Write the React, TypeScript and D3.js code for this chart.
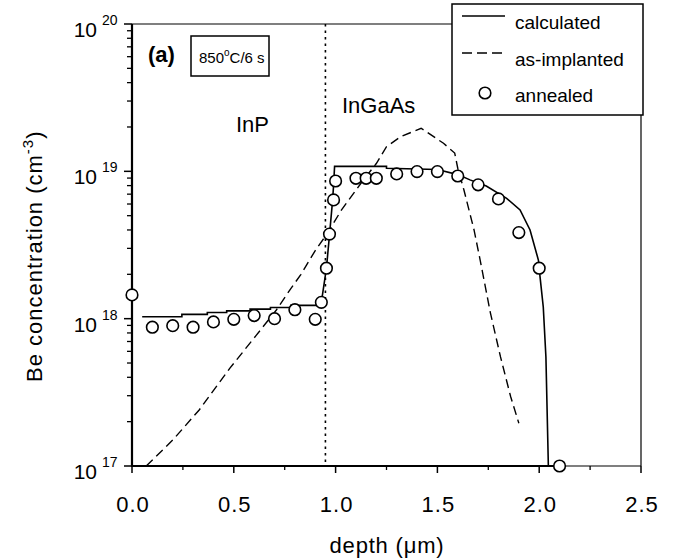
import React from "react";
import * as d3 from "d3";

// depth in µm, Be concentration in cm^-3
const calcDepth = [
  0.05, 0.245, 0.245, 0.37, 0.37, 0.465, 0.465, 0.58, 0.58, 0.68, 0.68, 0.78, 0.78, 0.91, 0.93,
  0.955, 0.97, 0.985, 0.99, 0.995, 1.25, 1.25, 1.5, 1.6, 1.66, 1.74, 1.84, 1.906, 1.955, 1.996,
  2.004, 2.02, 2.033, 2.045,
];
const calcConc = [
  1.03e18, 1.03e18, 1.07e18, 1.07e18, 1.1e18, 1.1e18, 1.13e18, 1.13e18, 1.16e18, 1.16e18, 1.19e18,
  1.19e18, 1.23e18, 1.23e18, 1.29e18, 2.2e18, 3.7e18, 6.3e18, 8.0e18, 1.08e19, 1.08e19, 1.05e19,
  1.03e19, 9.5e18, 8.75e18, 7.95e18, 6.56e18, 5.47e18, 4.0e18, 2.5e18, 1.93e18, 1.2e18, 5.5e17,
  1.0e17,
];

const implDepth = [
  0.07, 0.2, 0.33, 0.48, 0.61, 0.71, 0.78, 0.83, 0.9, 0.96, 1.03, 1.13, 1.2, 1.25, 1.32, 1.42,
  1.53, 1.585, 1.6, 1.63, 1.68, 1.71, 1.76, 1.81, 1.86, 1.9,
];
const implConc = [
  1.0e17, 1.5e17, 2.4e17, 4.6e17, 7.7e17, 1.15e18, 1.6e18, 2.0e18, 2.9e18, 3.8e18, 5.5e18, 8.5e18,
  1.13e19, 1.47e19, 1.72e19, 1.96e19, 1.55e19, 1.33e19, 1.05e19, 7.5e18, 4.0e18, 2.5e18, 1.1e18,
  5.5e17, 2.95e17, 1.95e17,
];

const annDepth = [
  0.0, 0.1, 0.2, 0.3, 0.4, 0.5, 0.6, 0.7, 0.8, 0.9, 0.93, 0.955, 0.97, 0.99, 1.0, 1.1, 1.15, 1.2,
  1.3, 1.4, 1.5, 1.6, 1.7, 1.8, 1.9, 2.0, 2.1,
];
const annConc = [
  1.45e18, 8.75e17, 8.96e17, 8.75e17, 9.5e17, 9.9e17, 1.05e18, 1.0e18, 1.15e18, 9.9e17, 1.29e18,
  2.2e18, 3.75e18, 6.4e18, 8.6e18, 8.97e18, 8.97e18, 8.97e18, 9.6e18, 9.96e18, 9.96e18, 9.3e18,
  8.1e18, 6.5e18, 3.84e18, 2.2e18, 1.0e17,
];

const xTicks = [0, 0.5, 1.0, 1.5, 2.0, 2.5];
const xMinorTicks = [0.25, 0.75, 1.25, 1.75, 2.25];
const yExponents = [17, 18, 19, 20];
const interfaceDepth = 0.95;

const font = "'Liberation Sans', Arial, Helvetica, sans-serif";

const App = () => {
  const width = 673;
  const height = 560;
  const left = 132;
  const right = 641;
  const top = 24;
  const bottom = 466;

  const x = d3.scaleLinear().domain([0, 2.5]).range([left, right]);
  const y = d3.scaleLog().domain([1e17, 1e20]).range([bottom, top]);

  const yMinor: number[] = [];
  [17, 18, 19].forEach((e) => {
    for (let m = 2; m <= 9; m++) yMinor.push(m * Math.pow(10, e));
  });

  const line = d3
    .line<[number, number]>()
    .x((d) => x(d[0]))
    .y((d) => y(d[1]));

  const calcPath = line(calcDepth.map((d, i) => [d, calcConc[i]]) as [number, number][]);
  const implPath = line(implDepth.map((d, i) => [d, implConc[i]]) as [number, number][]);

  return (
    <svg
      width={width}
      height={height}
      style={{ position: "absolute", left: 0, top: 0, background: "white" }}
      fontFamily={font}
    >
      <rect width={width} height={height} fill="white" />

      {/* frame */}
      <line x1={left} x2={right} y1={top} y2={top} stroke="black" strokeWidth={1.2} />
      <line x1={right} x2={right} y1={top} y2={bottom} stroke="black" strokeWidth={1.2} />
      <line x1={left} x2={right} y1={bottom} y2={bottom} stroke="black" strokeWidth={1.2} />

      {/* interface */}
      <line
        x1={x(interfaceDepth)}
        x2={x(interfaceDepth)}
        y1={top}
        y2={bottom}
        stroke="black"
        strokeWidth={1.6}
        strokeDasharray="2.5,4"
      />

      {/* as-implanted */}
      <path d={implPath || ""} fill="none" stroke="black" strokeWidth={1.4} strokeDasharray="9,5" />

      {/* calculated */}
      <path d={calcPath || ""} fill="none" stroke="black" strokeWidth={1.6} />

      {/* axes */}
      <line x1={left} x2={left} y1={top} y2={bottom + 1} stroke="black" strokeWidth={2.2} />
      <line x1={left - 1} x2={x(2.1)} y1={bottom} y2={bottom} stroke="black" strokeWidth={2.2} />

      {/* annealed */}
      {annDepth.map((d, i) => (
        <circle
          key={i}
          cx={x(d)}
          cy={y(annConc[i])}
          r={5.8}
          fill="white"
          stroke="black"
          strokeWidth={1.6}
        />
      ))}

      {xTicks.map((t) => (
        <g key={t}>
          <line x1={x(t)} x2={x(t)} y1={bottom} y2={bottom + 7} stroke="black" strokeWidth={1.5} />
          <text x={x(t) + 1} y={512} textAnchor="middle" fontSize={22} letterSpacing={1}>
            {t.toFixed(1)}
          </text>
        </g>
      ))}
      {xMinorTicks.map((t) => (
        <line key={t} x1={x(t)} x2={x(t)} y1={bottom} y2={bottom + 4} stroke="black" strokeWidth={1.3} />
      ))}

      {yExponents.map((e) => {
        const yy = y(Math.pow(10, e));
        return (
          <g key={e}>
            <line x1={left - 8} x2={left} y1={yy} y2={yy} stroke="black" strokeWidth={1.5} />
            <text x={97} y={yy + 13} textAnchor="end" fontSize={21}>
              10
            </text>
            <text x={102} y={yy + 1} fontSize={14}>
              {e}
            </text>
          </g>
        );
      })}
      {yMinor.map((v) => (
        <line key={v} x1={left - 5} x2={left} y1={y(v)} y2={y(v)} stroke="black" strokeWidth={1.3} />
      ))}

      {/* axis titles */}
      <text x={387} y={553} textAnchor="middle" fontSize={22} letterSpacing={0.8}>
        depth (μm)
      </text>
      <text transform="translate(42,382) rotate(-90)" fontSize={22} letterSpacing={1}>
        Be concentration (cm
        <tspan dy={-9} fontSize={15}>
          -3
        </tspan>
        <tspan dy={9}>)</tspan>
      </text>

      {/* annotations */}
      <text x={148} y={62} fontSize={22} fontWeight="bold">
        (a)
      </text>
      <rect x={191} y={36} width={78} height={40} fill="white" stroke="black" strokeWidth={1.5} />
      <text x={199} y={63} fontSize={15}>
        850
        <tspan dy={-7} fontSize={10}>
          o
        </tspan>
        <tspan dy={7}>C/6 s</tspan>
      </text>
      <text x={236} y={132} fontSize={22}>
        InP
      </text>
      <text x={342} y={113} fontSize={22}>
        InGaAs
      </text>

      {/* legend */}
      <rect x={452} y={4} width={191} height={111} fill="white" stroke="black" strokeWidth={1.5} />
      <line x1={462} x2={505} y1={16} y2={16} stroke="black" strokeWidth={1.6} />
      <text x={515} y={29} fontSize={19}>
        calculated
      </text>
      <line x1={462} x2={505} y1={53} y2={53} stroke="black" strokeWidth={1.4} strokeDasharray="10,5" />
      <text x={515} y={66} fontSize={19}>
        as-implanted
      </text>
      <circle cx={485} cy={93} r={5.8} fill="white" stroke="black" strokeWidth={1.6} />
      <text x={515} y={102} fontSize={19}>
        annealed
      </text>
    </svg>
  );
};

export default App;
